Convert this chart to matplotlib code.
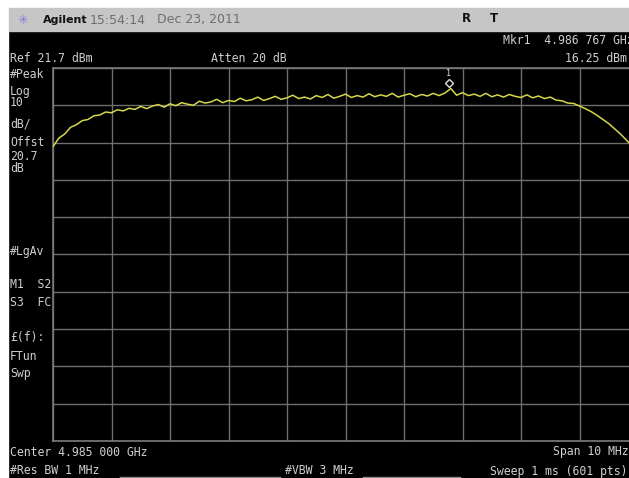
import matplotlib
matplotlib.use("Agg")
import matplotlib.pyplot as plt
import matplotlib.transforms as mtransforms
import numpy as np

# ---- data ----
center_ghz = 4.985
span_mhz = 10.0
ref_dbm = 21.7
db_per_div = 10
offset_mhz = [i / 10 for i in range(101)]
trace_dbm = [
    0.6, 2.9, 4.0, 5.8, 6.5, 7.6, 7.9, 8.9, 9.1, 9.9,
    9.7, 10.5, 10.2, 10.9, 10.6, 11.4, 10.8, 11.5, 11.9, 11.2,
    12.1, 11.6, 12.4, 12.0, 11.7, 12.8, 12.3, 12.6, 13.3, 12.4,
    13.0, 12.7, 13.6, 12.9, 13.2, 13.9, 13.0, 13.5, 14.1, 13.3,
    13.7, 14.4, 13.5, 13.9, 13.4, 14.3, 13.8, 14.6, 13.6, 14.1,
    14.7, 13.8, 14.3, 13.9, 14.8, 14.0, 14.5, 14.1, 14.9, 13.9,
    14.4, 14.8, 14.0, 14.6, 14.2, 14.9, 14.3, 15.0, 16.2, 14.4,
    15.1, 14.3, 14.7, 14.1, 14.9, 14.0, 14.5, 13.9, 14.6, 14.1,
    13.8, 14.5, 13.7, 14.2, 13.5, 13.9, 13.1, 12.9, 12.3, 12.2,
    11.5, 10.8, 10.0, 9.0, 7.9, 6.8, 5.4, 4.0, 2.4, 0.8,
    -0.8,
]
marker_ghz = 4.986767
marker_dbm = 16.25

W, H = 629, 478
fig = plt.figure(figsize=(W / 100, H / 100), dpi=100)
fig.patch.set_facecolor("black")

def fx(x):
    return x / W

def fy(y):
    return 1 - y / H

# white border top/left
fig.add_artist(plt.Rectangle((0, fy(7)), 1, 7 / H, transform=fig.transFigure, color="white", zorder=0))
fig.add_artist(plt.Rectangle((0, 0), fx(8), 1, transform=fig.transFigure, color="white", zorder=0))
# gray title bar
fig.add_artist(plt.Rectangle((fx(9), fy(31)), 1, 23 / H, transform=fig.transFigure, color="#c6c6c6", zorder=1))

# ---- axes ----
gl, gr, gt, gb = 53, 638, 68, 441
ax = fig.add_axes([fx(gl), fy(gb), fx(gr - gl), (gb - gt) / H])
ax.set_facecolor("black")
f0 = center_ghz - span_mhz / 2000
f1 = center_ghz + span_mhz / 2000
ax.set_xlim(f0, f1)
ax.set_ylim(ref_dbm - 10 * db_per_div, ref_dbm)
ax.set_xticks(np.linspace(f0, f1, 11))
ax.set_yticks(np.linspace(ref_dbm - 10 * db_per_div, ref_dbm, 11))
ax.tick_params(length=0, labelbottom=False, labelleft=False)
ax.grid(True, color="#6e6e6e", linewidth=1.0)
for s in ax.spines.values():
    s.set_color("#7a7a7a")
    s.set_linewidth(1.2)

freqs = [center_ghz + (o - span_mhz / 2) / 1000 for o in offset_mhz]
ax.plot(freqs, trace_dbm, color="#d6d64c", linewidth=1.1, zorder=3)

off = mtransforms.offset_copy(ax.transData, fig=fig, x=0, y=4, units="points")
ax.plot([marker_ghz], [marker_dbm], marker="D", markersize=4.5, markerfacecolor="none",
        markeredgecolor="#e0e0e0", markeredgewidth=1.0, transform=off, clip_on=False, zorder=4)
ax.annotate("1", (marker_ghz, marker_dbm), xytext=(0, 11), textcoords="offset points",
            ha="center", va="center", color="#e0e0e0", fontsize=6, family="DejaVu Sans Mono",
            annotation_clip=False)

# ---- texts ----
txt = dict(color="#cfcfcf", family="DejaVu Sans Mono", fontsize=8.3, va="center")

def t(x, y, s, **kw):
    d = dict(txt)
    d.update(kw)
    fig.text(fx(x), fy(y), s, **d)

# title bar
t(23, 20, "✳", color="#8a7ad8", family="DejaVu Sans", fontsize=9, ha="center")
t(43, 20, "Agilent", color="#111111", family="DejaVu Sans", fontsize=8, weight="bold")
t(90, 20, "15:54:14", color="#6e6e6e", family="DejaVu Sans", fontsize=9)
t(157, 20, "Dec 23, 2011", color="#6e6e6e", family="DejaVu Sans", fontsize=9)
t(462, 19, "R", color="#111111", family="DejaVu Sans", fontsize=8.5, weight="bold")
t(490, 19, "T", color="#111111", family="DejaVu Sans", fontsize=8.5, weight="bold")

t(503, 41, "Mkr1  4.986 767 GHz")
t(10, 58, "Ref 21.7 dBm")
t(211, 58, "Atten 20 dB")
t(565, 58, "16.25 dBm")

left_labels = [("#Peak", 74), ("Log", 91), ("10", 103), ("dB/", 124), ("Offst", 143),
               ("20.7", 157), ("dB", 169), ("#LgAv", 252), ("M1  S2", 285), ("S3  FC", 303),
               ("£(f):", 338), ("FTun", 356), ("Swp", 373)]
for s, y in left_labels:
    t(10, y, s)

t(10, 452, "Center 4.985 000 GHz")
t(553, 452, "Span 10 MHz")
t(10, 471, "#Res BW 1 MHz")
t(285, 471, "#VBW 3 MHz")
t(490, 471, "Sweep 1 ms (601 pts)")

fig.add_artist(plt.Line2D([fx(120), fx(280)], [fy(477), fy(477)], transform=fig.transFigure, color="#8a8a8a", lw=1))
fig.add_artist(plt.Line2D([fx(363), fx(460)], [fy(477), fy(477)], transform=fig.transFigure, color="#8a8a8a", lw=1))

fig.savefig("out.png", dpi=100, facecolor=fig.get_facecolor())
